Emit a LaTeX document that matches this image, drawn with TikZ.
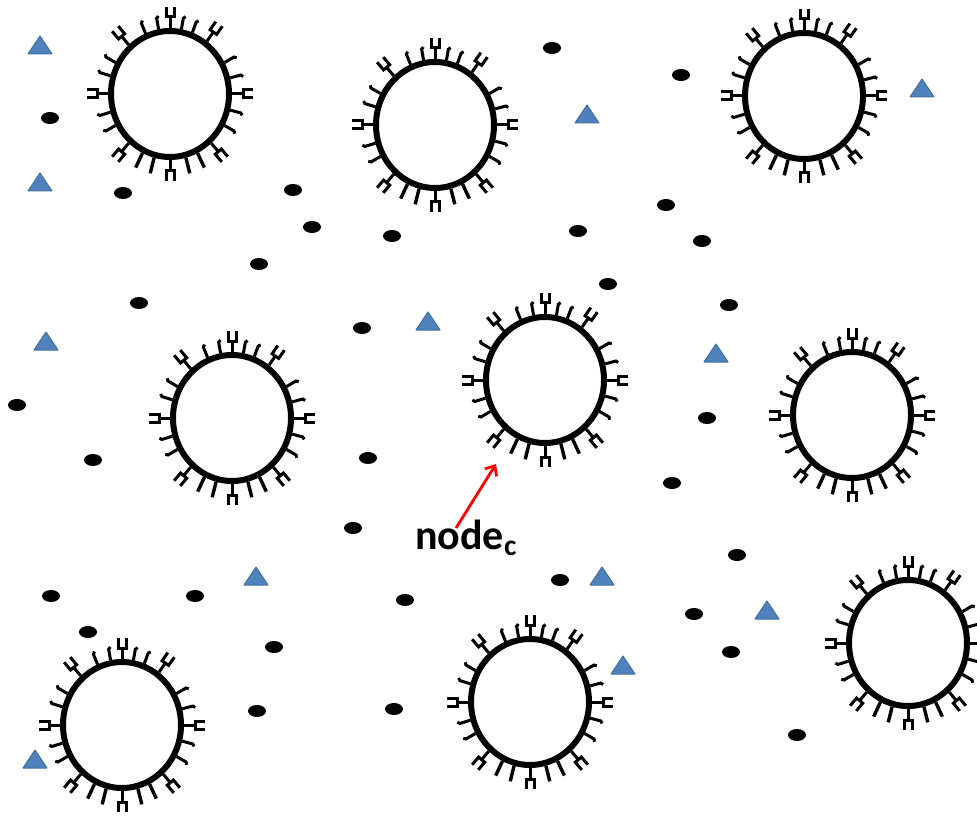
\documentclass[tikz,border=0pt]{standalone}
\usepackage{fontspec}
\setmainfont{Carlito}
\usetikzlibrary{shapes.geometric}
\usetikzlibrary{arrows.meta}
\usetikzlibrary{positioning}

\definecolor{triblue}{HTML}{4F81BD}
\definecolor{triedge}{HTML}{41719C}

% receptors round a cell node: cups, hooks and plain spikes
\newcommand{\receptors}[1]{%
	\foreach \a in {0,55,90,130,180,230,270,310}
		\draw[cup, shift={(#1.\a)}, rotate=\a] (0,0) -- (11,0) (21,-4) -- (11,-4) -- (11,4) -- (21,4);
	\foreach \a in {15,30,70,80,100,112,150,163,197,210,330,345}
		\draw[hook, shift={(#1.\a)}, rotate=\a] (0,0) -- (11,0) -- (13,2);
	\foreach \a in {245,256,284,295}
		\draw[spike, shift={(#1.\a)}, rotate=\a] (0,0) -- (16,0);
}

\begin{document}
\begin{tikzpicture}[x=1pt, y=-1pt,
				cell/.style={draw, ellipse, line width=6pt, minimum width=118pt, minimum height=126pt, inner sep=0pt},
				cup/.style={line width=3pt},
				hook/.style={line width=3pt},
				spike/.style={line width=3.4pt},
				dot/.style={fill=black},
				tri/.style={fill=triblue, draw=triedge, line width=1pt, line join=round},
				pointer/.style={draw=red, line width=2.8pt, -{Straight Barb[length=8pt, width=14pt]}}]
	\useasboundingbox (0,0) rectangle (977,826);

	% cells
	\foreach \n/\x/\y in {a/170/94, b/435/125, c/804/96, d/232/418, e/545/380, f/852/415, g/122/725, h/530/702, i/908/643}{
		\node[cell] (cell\n) at (\x,\y) {};
		\receptors{cell\n}
	}

	% small particles
	\foreach \x/\y in {50/118, 123/193, 293/190, 312/227, 392/236, 259/264, 139/303, 362/328,
			17/405, 93/460, 368/458, 353/528, 552/48, 681/75, 666/205, 578/231, 702/241,
			608/284, 729/305, 707/418, 672/483, 737/555, 560/580, 405/600, 195/596, 51/596,
			88/632, 274/647, 694/614, 731/652, 257/711, 394/709, 797/735}
		\fill[dot] (\x,\y) ellipse [x radius=9pt, y radius=6pt];

	\foreach \x/\y in {40/45, 40/182, 46/341, 587/114, 922/88, 428/321, 716/353, 256/576,
			602/576, 767/610, 623/665, 35/759}
		\filldraw[tri] (\x,\y) ++(-12,9) -- ++(24,0) -- ++(-12,-18) -- cycle;

	% label and pointer
	\node[font=\bfseries\fontsize{42}{42}\selectfont, inner sep=0pt] (lbl) at (466,538) {node\textsubscript{c}};
	\coordinate (tail) at (456,528);
	\coordinate (tip) at (496,464);
	\draw[pointer] (tail) -- (tip);
\end{tikzpicture}
\end{document}
